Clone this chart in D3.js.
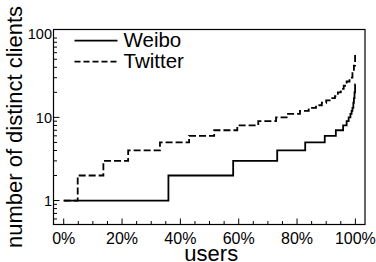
<!DOCTYPE html>
<html>
<head>
<meta charset="utf-8">
<script src="https://cdn.jsdelivr.net/npm/d3@7"></script>
<style>
  body { margin: 0; background: #fff; }
  text { font-family: "Liberation Sans", Arial, sans-serif; fill: #000; }
</style>
</head>
<body>
<div class="chart"></div>
<script>
// data (fraction of users -> distinct clients)
var weiboX = [0, 0.359, 0.581, 0.732, 0.828, 0.895, 0.933, 0.958, 0.970, 0.977, 0.983, 0.987, 0.990, 0.993, 0.995, 0.997, 0.999, 1];
var weiboY = [1, 2, 3, 4, 5, 6, 7, 8, 9, 10, 11, 12, 13, 15, 17, 20, 25, 25];

var twitterX = [0, 0.048, 0.136, 0.221, 0.330, 0.430, 0.516, 0.595, 0.667, 0.728, 0.769, 0.810, 0.840, 0.865, 0.885, 0.900, 0.915, 0.930, 0.940, 0.950, 0.960, 0.970, 0.980, 0.990, 0.995, 0.999, 1];
var twitterY = [1, 2, 3, 4, 5, 6, 7, 8, 9, 10, 11, 12, 13, 14, 15, 16, 17, 18, 20, 22, 24, 27, 30, 36, 42, 58, 58];

var xTicks = [0, 0.2, 0.4, 0.6, 0.8, 1];
var yTicks = [1, 10, 100];

var svgWidth = 376;
var svgHeight = 262;
var margin = { top: 29.5, right: 11, bottom: 37.5, left: 53.5 };
var width = svgWidth - margin.left - margin.right;
var height = svgHeight - margin.top - margin.bottom;

var svg = d3.select(".chart")
  .append("svg")
  .attr("width", svgWidth)
  .attr("height", svgHeight);

var g = svg.append("g")
  .attr("transform", "translate(" + margin.left + "," + margin.top + ")");

var xScale = d3.scaleLinear().domain([-0.035, 1.033]).range([0, width]);
var yScale = d3.scaleLog().domain([0.515, 114]).range([height, 0]);

// minor ticks
var xMinor = d3.range(0, 1.0001, 0.05);
g.selectAll(".xminor").data(xMinor).enter().append("line")
  .attr("x1", function(d) { return xScale(d); })
  .attr("x2", function(d) { return xScale(d); })
  .attr("y1", height)
  .attr("y2", function(d) {
    return xTicks.some(function(t) { return Math.abs(t - d) < 1e-6; }) ? height - 6 : height - 3.5;
  })
  .attr("stroke", "#000")
  .attr("stroke-width", 1);

var yMinor = [];
[0.1, 1, 10].forEach(function(b) {
  for (var k = 1; k <= 9; k++) {
    var v = b * k;
    if (v >= 0.55 && v <= 100) yMinor.push(v);
  }
});
g.selectAll(".yminor").data(yMinor).enter().append("line")
  .attr("x1", 0)
  .attr("x2", function(d) { return yTicks.indexOf(Math.round(d * 1000) / 1000) >= 0 ? 6 : 3.5; })
  .attr("y1", function(d) { return yScale(d); })
  .attr("y2", function(d) { return yScale(d); })
  .attr("stroke", "#000")
  .attr("stroke-width", 1);

// tick labels
g.selectAll(".xlab").data(xTicks).enter().append("text")
  .attr("x", function(d) { return xScale(d); })
  .attr("y", height + 19)
  .attr("text-anchor", "middle")
  .attr("font-size", "16px")
  .text(function(d) { return Math.round(d * 100) + "%"; });

g.selectAll(".ylab").data(yTicks).enter().append("text")
  .attr("x", -1.5)
  .attr("y", function(d) { return yScale(d); })
  .attr("dy", "0.36em")
  .attr("text-anchor", "end")
  .attr("font-size", "14.5px")
  .text(function(d) { return d; });

// lines
var line = d3.line()
  .curve(d3.curveStepAfter)
  .x(function(d) { return xScale(d[0]); })
  .y(function(d) { return yScale(d[1]); });

g.append("path")
  .datum(d3.zip(weiboX, weiboY))
  .attr("d", line)
  .attr("fill", "none")
  .attr("stroke", "#000")
  .attr("stroke-width", 1.8);

g.append("path")
  .datum(d3.zip(twitterX, twitterY))
  .attr("d", line)
  .attr("fill", "none")
  .attr("stroke", "#000")
  .attr("stroke-width", 1.8)
  .attr("stroke-dasharray", "7,3");

// frame
g.append("rect")
  .attr("width", width)
  .attr("height", height)
  .attr("fill", "none")
  .attr("stroke", "#000")
  .attr("stroke-width", 1.2);

// legend
var legend = [
  { name: "Weibo", dash: null },
  { name: "Twitter", dash: "6,3" }
];
var lg = g.selectAll(".legend").data(legend).enter().append("g")
  .attr("transform", function(d, i) { return "translate(21," + (11.2 + i * 21) + ")"; });
lg.append("line")
  .attr("x1", 0).attr("x2", 43)
  .attr("stroke", "#000")
  .attr("stroke-width", 1.8)
  .attr("stroke-dasharray", function(d) { return d.dash; });
lg.append("text")
  .attr("x", 49)
  .attr("y", 6.5)
  .attr("font-size", "20.5px")
  .text(function(d) { return d.name; });

// axis titles
svg.append("text")
  .attr("transform", "rotate(-90)")
  .attr("x", -(margin.top + height / 2))
  .attr("y", 21.5)
  .attr("text-anchor", "middle")
  .attr("font-size", "22px")
  .text("number of distinct clients");

svg.append("text")
  .attr("x", margin.left + width / 2 + 2)
  .attr("y", 260.5)
  .attr("text-anchor", "middle")
  .attr("font-size", "22px")
  .text("users");
</script>
</body>
</html>
